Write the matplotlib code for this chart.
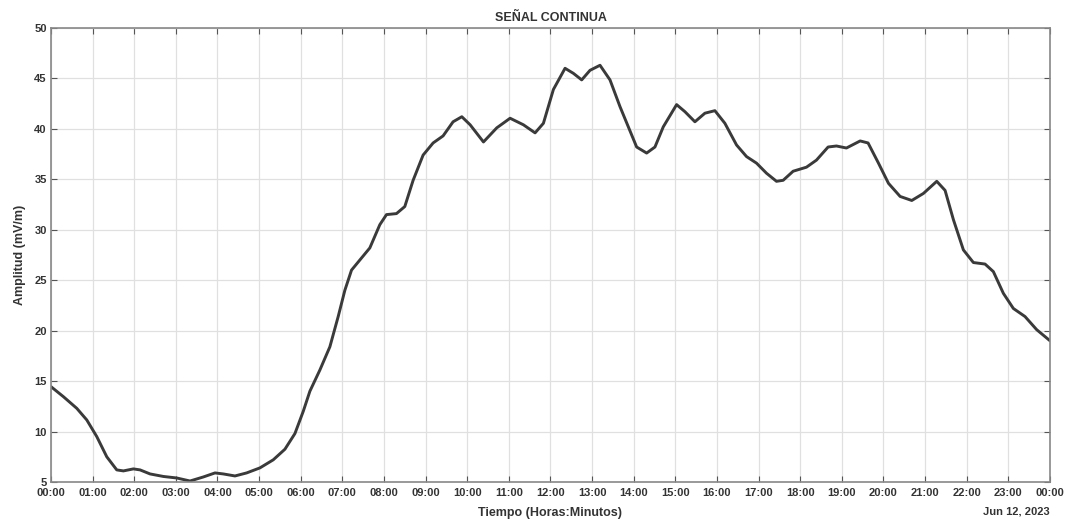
import numpy as np
import matplotlib
matplotlib.use("Agg")
import matplotlib.pyplot as plt

# hours since 00:00 and amplitude in mV/m
hours = [0.0, 0.30, 0.62, 0.86, 1.10, 1.34, 1.58, 1.74, 1.98, 2.14, 2.38,
         2.70, 3.02, 3.34, 3.66, 3.94, 4.14, 4.42, 4.70, 5.02, 5.34, 5.62,
         5.86, 6.06, 6.22, 6.46, 6.70, 6.90, 7.06, 7.22, 7.42, 7.66, 7.90,
         8.06, 8.30, 8.50, 8.70, 8.94, 9.18, 9.42, 9.66, 9.87, 10.07, 10.39,
         10.71, 11.03, 11.35, 11.63, 11.83, 12.07, 12.35, 12.55, 12.75, 12.95,
         13.19, 13.43, 13.67, 13.92, 14.07, 14.31, 14.51, 14.71, 15.03, 15.23,
         15.47, 15.71, 15.95, 16.19, 16.47, 16.71, 16.95, 17.19, 17.43, 17.59,
         17.83, 18.15, 18.39, 18.67, 18.87, 19.11, 19.44, 19.63, 19.88, 20.12,
         20.40, 20.68, 20.96, 21.28, 21.48, 21.68, 21.92, 22.16, 22.44, 22.64,
         22.88, 23.12, 23.40, 23.68, 24.0]
amplitud = [14.45, 13.45, 12.3, 11.15, 9.5, 7.5, 6.2, 6.1, 6.3, 6.2, 5.8,
            5.55, 5.4, 5.1, 5.5, 5.9, 5.8, 5.6, 5.9, 6.4, 7.2, 8.25,
            9.8, 12.0, 14.0, 16.1, 18.4, 21.4, 24.0, 26.0, 27.0, 28.2, 30.5,
            31.5, 31.6, 32.3, 34.9, 37.4, 38.6, 39.3, 40.7, 41.2, 40.4, 38.7,
            40.1, 41.05, 40.4, 39.6, 40.55, 43.9, 46.0, 45.5, 44.85, 45.8,
            46.3, 44.85, 42.2, 39.7, 38.2, 37.6, 38.2, 40.2, 42.4, 41.7,
            40.7, 41.55, 41.8, 40.55, 38.4, 37.25, 36.6, 35.6, 34.8, 34.9,
            35.8, 36.2, 36.9, 38.2, 38.3, 38.1, 38.8, 38.6, 36.6, 34.6,
            33.3, 32.9, 33.6, 34.8, 33.9, 31.0, 28.0, 26.75, 26.6, 25.85,
            23.7, 22.2, 21.4, 20.1, 19.0]

xticks = list(range(0, 25))
xlabels = ["%02d:00" % (h % 24) for h in xticks]
yticks = list(range(5, 51, 5))

plt.rcParams["font.family"] = ["Liberation Sans", "DejaVu Sans"]

fig = plt.figure(figsize=(10.78, 5.28), dpi=100)
ax = fig.add_axes([0.0473, 0.0871, 0.9267, 0.86])

ax.plot(hours, amplitud, color="#3a3a3a", lw=2.1,
        solid_joinstyle="round", solid_capstyle="round")

ax.set_xlim(0, 24)
ax.set_ylim(5, 50)
ax.set_xticks(xticks)
ax.set_xticklabels(xlabels)
ax.set_yticks(yticks)
ax.grid(True, color="#e0e0e0", lw=0.9)
ax.tick_params(direction="in", top=True, right=True, length=4, width=0.8,
               color="#555555", labelsize=8, labelcolor="#333333")
ax.tick_params(axis="x", pad=4)
ax.tick_params(axis="y", pad=3)
for lab in ax.get_xticklabels() + ax.get_yticklabels():
    lab.set_fontweight("bold")
for s in ax.spines.values():
    s.set_color("#888888")
    s.set_linewidth(1.2)

ax.set_title("SEÑAL CONTINUA", fontsize=9, fontweight="bold", color="#333333", pad=5)
ax.set_xlabel("Tiempo (Horas:Minutos)", fontsize=9, fontweight="bold",
              color="#333333", labelpad=7)
ax.set_ylabel("Amplitud (mV/m)", fontsize=9, fontweight="bold",
              color="#333333", labelpad=6)
ax.text(1.0, -0.055, "Jun 12, 2023", transform=ax.transAxes, ha="right",
        va="top", fontsize=8, fontweight="bold", color="#333333")

fig.savefig("out.png", dpi=100)
